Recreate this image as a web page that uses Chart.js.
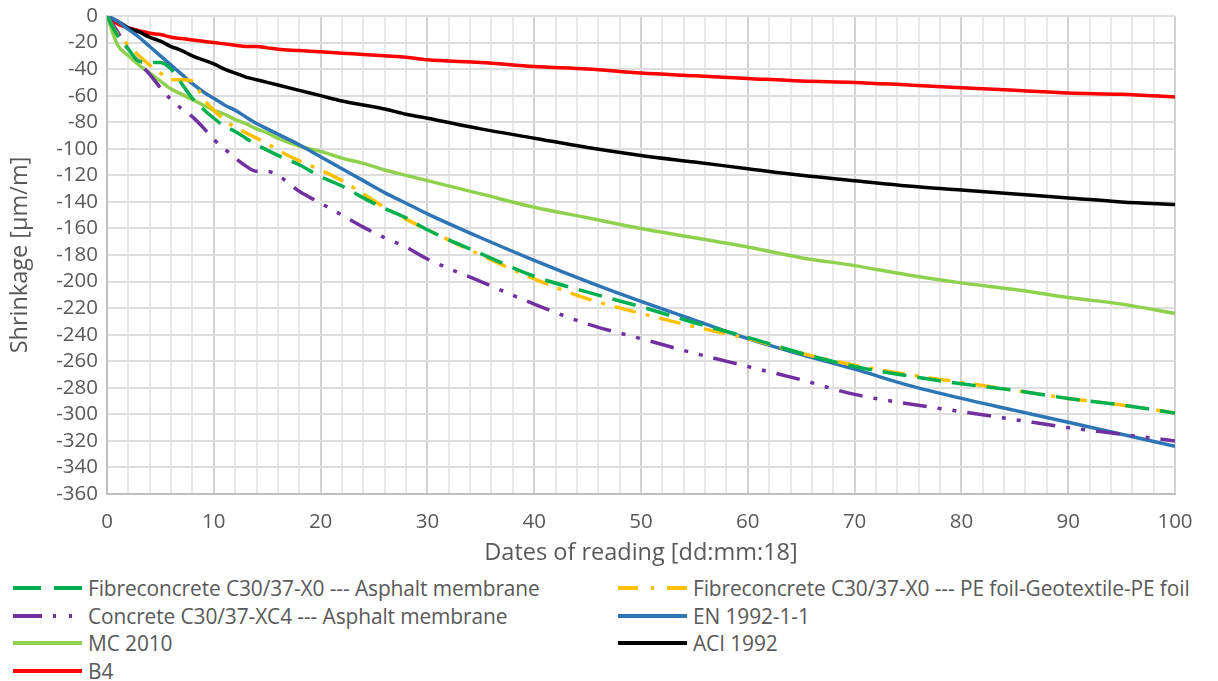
<!DOCTYPE html>
<html>
<head>
<meta charset="utf-8">
<script src="https://cdn.jsdelivr.net/npm/chart.js@4.4.1/dist/chart.umd.min.js"></script>
<style>
  body { margin: 0; background: #fff; font-family: 'Open Sans', sans-serif; }
  #wrap { position: relative; width: 1218px; height: 574px; }
  #legenda { position: absolute; top: 574px; left: 0; width: 1218px; }
  .item { position: absolute; height: 28px; display: flex; align-items: center; color: #595959; font-size: 20.9px; white-space: nowrap; letter-spacing: -0.1px; }
  .item svg { margin-right: 6px; }
</style>
</head>
<body>
<div id="wrap"><canvas id="miGrafica"></canvas></div>
<div id="legenda"></div>
<script>
// días de lectura
const dias = [0,1,2,3,4,5,6,7,8,9,10,11,12,13,14,15,16,18,20,22,24,26,28,30,35,40,45,50,55,60,65,70,75,80,85,90,95,100];

// retracción medida / modelos [µm/m]
const fibraAsfalto = [0,-15,-25,-34,-35,-35,-40,-51,-62,-70,-77,-83,-87,-92,-97,-101,-105,-112,-121,-128,-137,-145,-152,-161,-179,-196,-208,-219,-231,-242,-254,-264,-271,-277,-282,-288,-293,-299];
const fibraPE = [0,-14,-22,-30,-37,-43,-48,-48,-49,-62,-71,-78,-84,-88,-92,-96,-101,-109,-116,-124,-134,-144,-153,-161,-180,-198,-213,-224,-234,-243,-254,-263,-270,-276,-282,-288,-293,-299];
const hormigonAsfalto = [0,-12,-25,-35,-44,-54,-63,-70,-76,-84,-93,-100,-107,-113,-117,-117,-120,-132,-141,-150,-159,-167,-174,-183,-200,-217,-232,-243,-254,-264,-274,-285,-292,-298,-304,-310,-315,-320];
const en1992 = [0,-4,-10,-16,-23,-30,-37,-44,-51,-57,-62,-67,-71,-76,-81,-85,-89,-97,-106,-115,-124,-133,-141,-149,-167,-184,-200,-215,-229,-243,-255,-266,-278,-288,-297,-306,-315,-324];
const mc2010 = [0,-22,-30,-37,-43,-49,-55,-59,-63,-67,-71,-74,-78,-81,-85,-88,-92,-98,-102,-107,-111,-116,-120,-124,-134,-144,-152,-160,-167,-174,-182,-188,-195,-201,-206,-212,-217,-224];
const aci1992 = [0,-4,-9,-12,-16,-19,-23,-26,-30,-33,-36,-40,-43,-46,-48,-50,-52,-56,-60,-64,-67,-70,-74,-77,-85,-92,-99,-105,-110,-115,-120,-124,-128,-131,-134,-137,-140,-142];
const b4 = [0,-6,-9,-11,-13,-14,-16,-17,-18,-19,-20,-21,-22,-23,-23,-24,-25,-26,-27,-28,-29,-30,-31,-33,-35,-38,-40,-43,-45,-47,-49,-50,-52,-54,-56,-58,-59,-61];

function puntos(valores) {
    return dias.map((d, i) => ({ x: d, y: valores[i] }));
}

function serie(label, valores, color, dash) {
    return {
        label: label,
        data: puntos(valores),
        borderColor: color,
        borderWidth: 3.5,
        borderDash: dash || [],
        pointRadius: 0,
        tension: 0.3,
        cubicInterpolationMode: 'monotone',
        fill: false
    };
}

const gris = '#595959';
const fuenteTicks = { family: "'Open Sans', sans-serif", size: 20.5 };
const fuenteTitulo = { family: "'Open Sans', sans-serif", size: 23.5 };

const chart = new Chart(document.getElementById('miGrafica').getContext('2d'), {
    type: 'line',
    data: {
        datasets: [
            serie('Fibreconcrete C30/37-X0 --- Asphalt membrane', fibraAsfalto, '#00B050', [24, 11]),
            serie('Fibreconcrete C30/37-X0 --- PE foil-Geotextile-PE foil', fibraPE, '#FFC000', [22, 10, 4, 10]),
            serie('Concrete C30/37-XC4 --- Asphalt membrane', hormigonAsfalto, '#7030A0', [24, 11, 4, 11, 4, 11]),
            serie('EN 1992-1-1', en1992, '#2E75B6'),
            serie('MC 2010', mc2010, '#8FD14F'),
            serie('ACI 1992', aci1992, '#000000'),
            serie('B4', b4, '#FF0000')
        ]
    },
    options: {
        responsive: true,
        maintainAspectRatio: false,
        animation: false,
        layout: { padding: { top: 16, right: 43, left: 0, bottom: 0 } },
        plugins: { legend: { display: false }, tooltip: { enabled: false } },
        scales: {
            x: {
                type: 'linear',
                min: 0,
                max: 100,
                afterFit: (s) => { s.height = 80; s.paddingLeft = 0; s.paddingRight = 0; },
                ticks: {
                    stepSize: 2,
                    autoSkip: false,
                    maxRotation: 0,
                    padding: 16,
                    color: gris,
                    font: fuenteTicks,
                    callback: (v) => (v % 10 === 0 ? v : '')
                },
                grid: {
                    drawTicks: false,
                    lineWidth: 2,
                    color: (ctx) => (ctx.tick && ctx.tick.value % 10 === 0 ? '#D2D2D2' : '#E8E8E8')
                },
                border: { color: '#BFBFBF', width: 2 },
                title: { display: true, text: 'Dates of reading [dd:mm:18]', color: gris, font: fuenteTitulo, padding: { top: 0, bottom: 7 } }
            },
            y: {
                min: -360,
                max: 0,
                afterFit: (s) => { s.width = 107; s.paddingTop = 0; s.paddingBottom = 0; },
                ticks: { stepSize: 20, autoSkip: false, padding: 9, color: gris, font: fuenteTicks },
                grid: { drawTicks: false, lineWidth: 2, color: '#DEDEDE' },
                border: { color: '#BFBFBF', width: 2 },
                title: { display: true, text: 'Shrinkage [µm/m]', color: gris, font: fuenteTitulo, padding: { top: 6, bottom: 0 } }
            }
        }
    }
});

// leyenda en dos columnas
const legenda = document.getElementById('legenda');
const columnas = [13, 618];
const estiloLeyenda = [[28, 13], [20, 13, 3, 13], [29, 11, 3, 13, 3, 13], [], [], [], []];
chart.data.datasets.forEach((ds, i) => {
    const fila = Math.floor(i / 2);
    const col = i % 2;
    const div = document.createElement('div');
    div.className = 'item';
    div.style.left = columnas[col] + 'px';
    div.style.top = (fila * 27.5) + 'px';
    const dash = estiloLeyenda[i].join(' ');
    div.innerHTML = '<svg width="69" height="10"><line x1="0" y1="5" x2="69" y2="5" stroke="' + ds.borderColor +
        '" stroke-width="4" stroke-dasharray="' + dash + '"/></svg>';
    const txt = document.createElement('span');
    txt.textContent = ds.label;
    div.appendChild(txt);
    legenda.appendChild(div);
});
</script>
</body>
</html>
